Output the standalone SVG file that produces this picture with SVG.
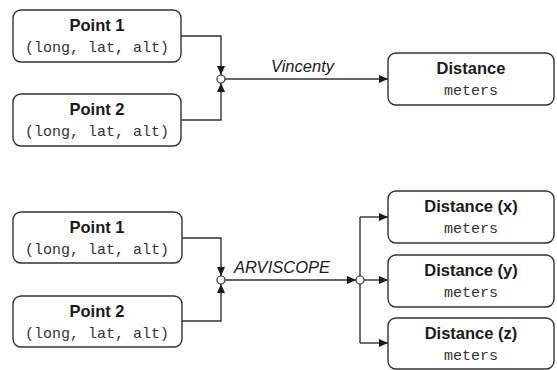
<svg xmlns="http://www.w3.org/2000/svg" width="557" height="370" viewBox="0 0 557 370">
  <style>
    .box { fill: #ffffff; stroke: #333333; stroke-width: 1.4; }
    .title { font-family: "Liberation Sans", Arial, sans-serif; font-weight: bold; font-size: 16.5px; fill: #1a1a1a; text-anchor: middle; }
    .mono { font-family: "Liberation Mono", "Courier New", monospace; font-size: 15px; fill: #333333; text-anchor: middle; }
    .label { font-family: "Liberation Sans", Arial, sans-serif; font-style: italic; font-size: 16.5px; fill: #1a1a1a; }
    .wire { fill: none; stroke: #333333; stroke-width: 1.4; }
    .arrow { fill: none; stroke: #333333; stroke-width: 1.4; marker-end: url(#head); }
    .junction { fill: #ffffff; stroke: #333333; stroke-width: 1.2; }
  </style>
  <defs>
    <marker id="head" markerUnits="userSpaceOnUse" markerWidth="10" markerHeight="8" refX="9" refY="4" orient="auto">
      <path d="M0,0 L9,4 L0,8 Z" fill="#1a1a1a"/>
    </marker>
  </defs>

  <rect width="557" height="370" fill="#ffffff"/>

  <!-- connectors -->
  <g id="connectors">
    <!-- Vincenty -->
    <path class="arrow" d="M181,36 H221 V75"/>
    <path class="arrow" d="M181,120 H221 V83"/>
    <path class="arrow" d="M225,79 H388"/>
    <text class="label" x="271" y="72">Vincenty</text>
    <!-- ARVISCOPE -->
    <path class="arrow" d="M182,238 H221 V276"/>
    <path class="arrow" d="M182,321 H221 V284"/>
    <path class="arrow" d="M225,280 H356"/>
    <path class="wire" d="M360,217 V343"/>
    <path class="arrow" d="M360,217 H388"/>
    <path class="arrow" d="M364,280 H388"/>
    <path class="arrow" d="M360,343 H388"/>
    <text class="label" x="234" y="273">ARVISCOPE</text>
    <circle class="junction" cx="221" cy="79" r="4"/>
    <circle class="junction" cx="221" cy="280" r="4"/>
    <circle class="junction" cx="360" cy="280" r="4"/>
  </g>

  <!-- upper chain -->
  <g id="point1-top">
    <rect class="box" x="13" y="10" width="168" height="52" rx="8"/>
    <text class="title" x="97" y="31">Point 1</text>
    <text class="mono" x="97" y="52">(long, lat, alt)</text>
  </g>
  <g id="point2-top">
    <rect class="box" x="13" y="94" width="168" height="52" rx="8"/>
    <text class="title" x="97" y="115">Point 2</text>
    <text class="mono" x="97" y="136">(long, lat, alt)</text>
  </g>
  <g id="distance">
    <rect class="box" x="388" y="53" width="166" height="52" rx="8"/>
    <text class="title" x="471" y="74">Distance</text>
    <text class="mono" x="471" y="95">meters</text>
  </g>

  <!-- lower chain -->
  <g id="point1-bottom">
    <rect class="box" x="13" y="212" width="169" height="51" rx="8"/>
    <text class="title" x="97" y="233">Point 1</text>
    <text class="mono" x="97" y="254">(long, lat, alt)</text>
  </g>
  <g id="point2-bottom">
    <rect class="box" x="13" y="296" width="169" height="51" rx="8"/>
    <text class="title" x="97" y="317">Point 2</text>
    <text class="mono" x="97" y="338">(long, lat, alt)</text>
  </g>
  <g id="distance-x">
    <rect class="box" x="388" y="191" width="166" height="52" rx="8"/>
    <text class="title" x="471" y="212">Distance (x)</text>
    <text class="mono" x="471" y="233">meters</text>
  </g>
  <g id="distance-y">
    <rect class="box" x="388" y="255" width="166" height="52" rx="8"/>
    <text class="title" x="471" y="276">Distance (y)</text>
    <text class="mono" x="471" y="297">meters</text>
  </g>
  <g id="distance-z">
    <rect class="box" x="388" y="318" width="166" height="51" rx="8"/>
    <text class="title" x="471" y="339">Distance (z)</text>
    <text class="mono" x="471" y="360">meters</text>
  </g>
</svg>
